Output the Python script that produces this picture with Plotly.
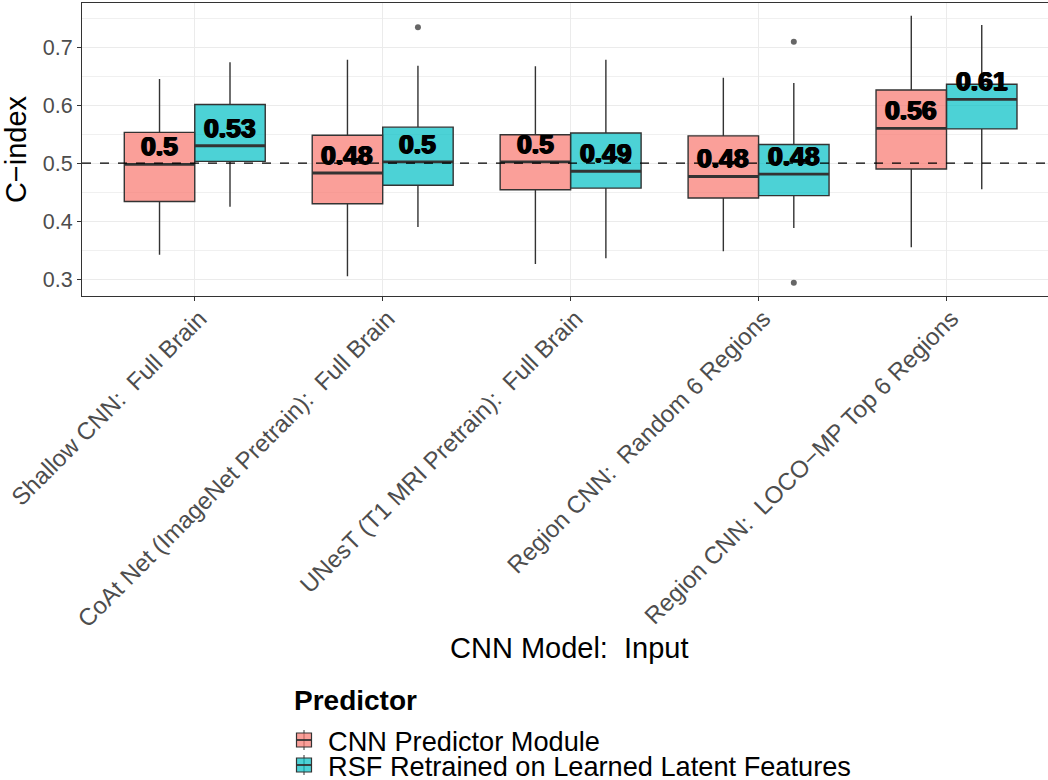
import plotly.graph_objects as go

# Model / input combinations on the x axis
categories = [
    "Shallow CNN:\u00a0 Full Brain",
    "CoAt Net (ImageNet Pretrain):\u00a0 Full Brain",
    "UNesT (T1 MRI Pretrain):\u00a0 Full Brain",
    "Region CNN:\u00a0 Random 6 Regions",
    "Region CNN:\u00a0 LOCO\u2212MP Top 6 Regions",
]
predictors = ["CNN Predictor Module", "RSF Retrained on Learned Latent Features"]

# Box statistics of the C-index, CNN predictor module
cnn_lower = [0.342, 0.305, 0.326, 0.348, 0.355]
cnn_q1 = [0.434, 0.430, 0.454, 0.440, 0.490]
cnn_median = [0.498, 0.483, 0.502, 0.477, 0.560]
cnn_q3 = [0.553, 0.548, 0.549, 0.547, 0.626]
cnn_upper = [0.645, 0.678, 0.667, 0.647, 0.754]
cnn_outliers = [[], [], [], [], []]

# Box statistics of the C-index, RSF retrained on latent features
rsf_lower = [0.425, 0.390, 0.336, 0.388, 0.455]
rsf_q1 = [0.503, 0.462, 0.457, 0.444, 0.559]
rsf_median = [0.530, 0.502, 0.486, 0.481, 0.610]
rsf_q3 = [0.601, 0.562, 0.552, 0.532, 0.636]
rsf_upper = [0.674, 0.668, 0.678, 0.638, 0.738]
rsf_outliers = [[], [0.734], [], [0.709, 0.294], []]

reference_cindex = 0.5

FONT = "Liberation Sans, Arial, Helvetica, sans-serif"
FILLS = ["rgba(248,118,109,0.7)", "rgba(0,191,196,0.7)"]
EDGE = "#333333"
BOX_W = 0.375
OFFSETS = [-BOX_W / 2, BOX_W / 2]

# plot-area geometry (pixels) used to place the hand-drawn legend
L, R, T, B = 82, 1048, 3, 296


def px(xp):
    return (xp - L) / (R - L)


def py(yp):
    return (B - yp) / (B - T)


series = [
    (cnn_lower, cnn_q1, cnn_median, cnn_q3, cnn_upper, cnn_outliers),
    (rsf_lower, rsf_q1, rsf_median, rsf_q3, rsf_upper, rsf_outliers),
]

fig = go.Figure()
annotations = []

for k, (lo, q1, med, q3, hi, outs) in enumerate(series):
    xs = [i + OFFSETS[k] for i in range(len(categories))]
    fig.add_trace(go.Box(
        name=predictors[k],
        x=xs, q1=q1, median=med, q3=q3, lowerfence=lo, upperfence=hi,
        width=BOX_W, whiskerwidth=0, boxpoints=False,
        fillcolor=FILLS[k], line=dict(color=EDGE, width=1.4),
        showlegend=False,
    ))
    # heavier median segment, as in ggplot's boxplot
    mx, my = [], []
    for x, m in zip(xs, med):
        mx += [x - BOX_W / 2, x + BOX_W / 2, None]
        my += [m, m, None]
    fig.add_trace(go.Scatter(x=mx, y=my, mode="lines",
                             line=dict(color=EDGE, width=2.8),
                             showlegend=False, hoverinfo="skip"))
    ox, oy = [], []
    for x, pts in zip(xs, outs):
        for p in pts:
            ox.append(x)
            oy.append(p)
    if ox:
        fig.add_trace(go.Scatter(x=ox, y=oy, mode="markers",
                                 marker=dict(color="#666666", size=6),
                                 showlegend=False))
    for x, m in zip(xs, med):
        annotations.append(dict(
            x=x, y=m, xref="x", yref="y", text=f"{round(m, 2):g}",
            showarrow=False, yanchor="bottom", yshift=1,
            font=dict(family=FONT, size=26.5, color="black", weight="bold",
                      shadow="0.9px 0 0 #000, -0.9px 0 0 #000, 0 0.5px 0 #000"),
        ))

# x-axis title
annotations.append(dict(
    x=px(569), y=py(648), xref="paper", yref="paper",
    text="CNN Model:\u00a0 Input", showarrow=False,
    xanchor="center", yanchor="middle",
    font=dict(family=FONT, size=29, color="black"),
))

# legend (title, keys and labels)
annotations.append(dict(
    x=px(292), y=py(700), xref="paper", yref="paper", text="<b>Predictor</b>",
    showarrow=False, xanchor="left", yanchor="middle",
    font=dict(family=FONT, size=28, color="black"),
))
key_centres = [740, 765]
shapes = []
for k, yc in enumerate(key_centres):
    annotations.append(dict(
        x=px(327), y=py(yc + 1), xref="paper", yref="paper", text=predictors[k],
        showarrow=False, xanchor="left", yanchor="middle",
        height=24, valign="middle", borderpad=0,
        font=dict(family=FONT, size=27.2, color="black"),
    ))
    shapes.append(dict(type="line", xref="paper", yref="paper",
                       x0=px(304), x1=px(304), y0=py(yc - 10), y1=py(yc + 10),
                       line=dict(color=EDGE, width=1)))
    shapes.append(dict(type="rect", xref="paper", yref="paper",
                       x0=px(296.5), x1=px(311.5), y0=py(yc - 7), y1=py(yc + 7),
                       fillcolor=FILLS[k], line=dict(color=EDGE, width=1.2)))
    shapes.append(dict(type="line", xref="paper", yref="paper",
                       x0=px(296.5), x1=px(311.5), y0=py(yc), y1=py(yc),
                       line=dict(color=EDGE, width=1.8)))

# dashed reference line at C-index 0.5
shapes.append(dict(type="line", xref="paper", yref="y", x0=0, x1=1,
                   y0=reference_cindex, y1=reference_cindex, layer="above",
                   line=dict(color="black", width=1.2, dash="dash")))

fig.update_layout(
    width=1048, height=780,
    margin=dict(l=L, r=1048 - R, t=T, b=780 - B, autoexpand=False),
    paper_bgcolor="white", plot_bgcolor="white",
    font=dict(family=FONT),
    showlegend=False,
    boxmode="overlay",
    annotations=annotations,
    shapes=shapes,
    xaxis=dict(
        range=[-0.6, 4.54], tickmode="array",
        tickvals=list(range(len(categories))), ticktext=categories,
        tickangle=-45, tickfont=dict(size=24, color="#4D4D4D"),
        ticklabelstandoff=-6, ticklabelshift=5,
        ticks="outside", ticklen=4, tickcolor=EDGE,
        showgrid=True, gridcolor="#EBEBEB", gridwidth=1,
        showline=True, linecolor=EDGE, linewidth=1, mirror=True,
        zeroline=False, automargin=False,
    ),
    yaxis=dict(
        range=[0.271, 0.776], tick0=0.3, dtick=0.1, tickformat=".1f",
        tickfont=dict(size=21.5, color="#4D4D4D"),
        ticks="outside", ticklen=4, tickcolor=EDGE,
        showgrid=True, gridcolor="#EBEBEB", gridwidth=1,
        minor=dict(dtick=0.05, tick0=0.25, showgrid=True,
                   gridcolor="#F0F0F0", gridwidth=0.6),
        showline=True, linecolor=EDGE, linewidth=1, mirror=True,
        zeroline=False, automargin=False,
        title=dict(text="C\u2212index", standoff=7,
                   font=dict(size=29, color="black")),
    ),
)

fig.write_html("out.html")
